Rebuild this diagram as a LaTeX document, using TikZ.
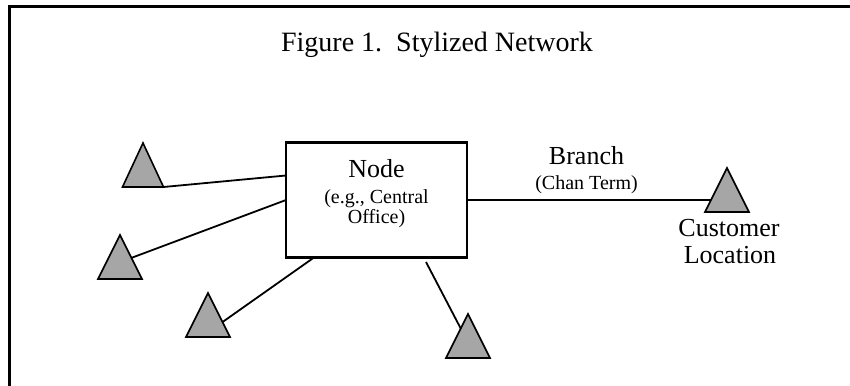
\documentclass[tikz,border=0pt]{standalone}
\usepackage{fontspec}
\setmainfont{Liberation Serif}
\usetikzlibrary{shapes.geometric,calc}
\definecolor{sitegray}{RGB}{166,166,166}
\begin{document}
\begin{tikzpicture}[x=1pt,y=-1pt,
  frame/.style={line width=2.6pt, line cap=rect},
  site/.style={isosceles triangle, isosceles triangle stretches,
    shape border rotate=90, minimum width=44pt, minimum height=44pt,
    inner sep=0pt, outer sep=0pt, draw=black, line width=1.6pt,
    fill=sitegray, anchor=apex},
  office/.style={draw=black, line width=2.1pt, minimum width=181pt,
    minimum height=115pt, inner sep=0pt, outer sep=0pt},
  link/.style={draw=black, line width=1.8pt},
  bigtext/.style={font=\fontsize{26}{29}\selectfont, anchor=base, inner sep=0pt},
  smalltext/.style={font=\fontsize{20}{22}\selectfont, anchor=base, inner sep=0pt},
  titletext/.style={font=\fontsize{28}{31}\selectfont, anchor=base, inner sep=0pt}]

\useasboundingbox (0,0) rectangle (850,385);
\fill[white] (0,0) rectangle (850,385);

% figure frame (left and top edges)
\draw[frame] (9.5,390) -- (9.5,6.5) -- (860,6.5);

\node[titletext] (title) at (437,52) {Figure 1.\ \ Stylized Network};

% central office
\node[office] (co) at (376.5,200) {};
\node[bigtext] (colabel) at (376.5,177) {Node};
\node[smalltext] (cosub1) at (376.5,203) {(e.g., Central};
\node[smalltext] (cosub2) at (376.5,223) {Office)};

% customer sites
\node[site, minimum width=41pt] (t1) at (143,143) {};
\node[site] (t2) at (120,235) {};
\node[site] (t3) at (208,293) {};
\node[site] (t4) at (468,314) {};
\node[site] (cust) at (727,168) {};

% branch label and customer label
\node[bigtext] (branch) at (586.5,164) {Branch};
\node[smalltext] (chan) at (586.5,189) {(Chan Term)};
\node[bigtext] (custl1) at (729,236) {Customer};
\node[bigtext] (custl2) at (730,263) {Location};

% loop connectors
\coordinate (tap) at ([xshift=140pt,yshift=-4.5pt]co.south west);
\coordinate (custside) at ($(cust.apex)!0.73!(cust.left corner)$);
\draw[link] (t1.right corner) -- ([yshift=24.5pt]co.west);
\draw[link] (co.west) -- ($(t2.apex)!0.52!(t2.right corner)$);
\draw[link] ([xshift=28pt]co.south west) -- ($(t3.apex)!0.66!(t3.right corner)$);
\draw[link] (tap) -- ($(t4.apex)!0.33!(t4.left corner)$);
\draw[link] (co.east) -- (co.east -| custside);
\end{tikzpicture}
\end{document}
